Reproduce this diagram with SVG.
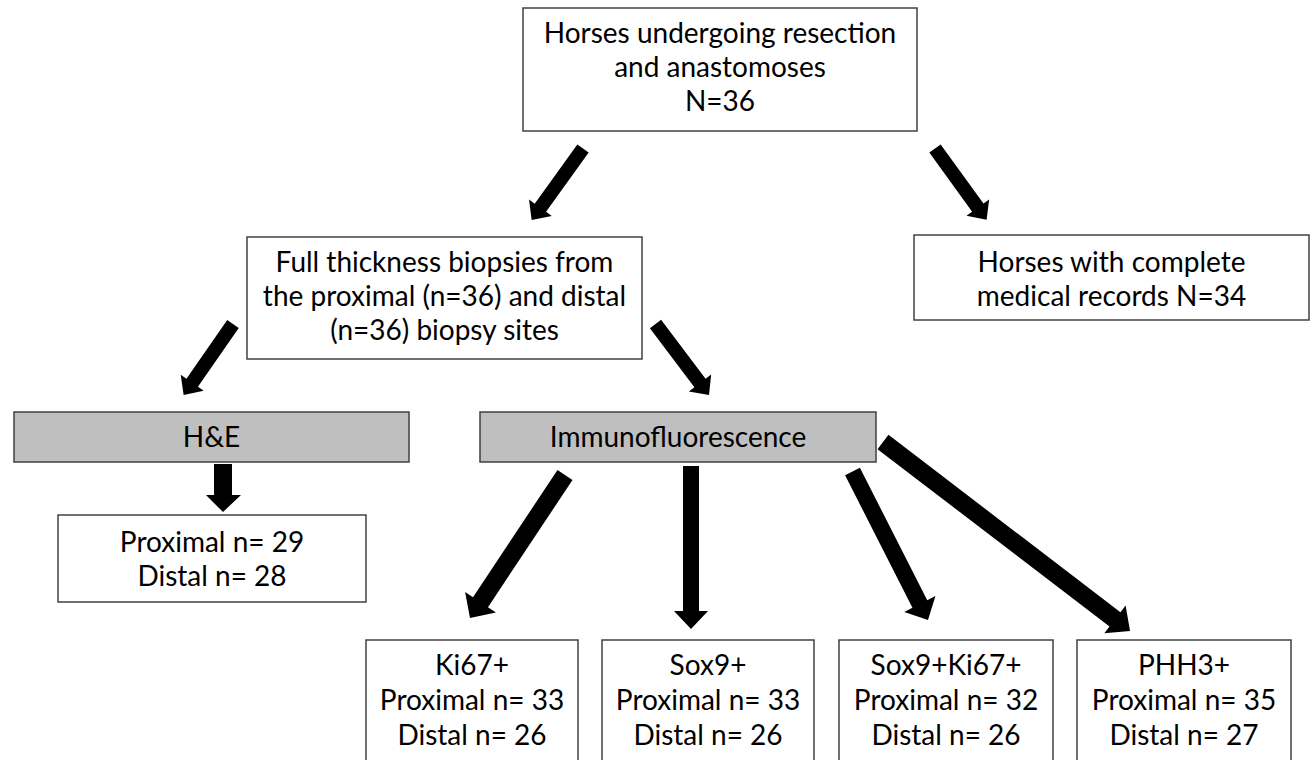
<svg xmlns="http://www.w3.org/2000/svg" width="1316" height="760" viewBox="0 0 1316 760">
<style>
.box{fill:#ffffff;stroke:#404040;stroke-width:1.5}
.gbox{fill:#bfbfbf;stroke:#404040;stroke-width:1.5}
.t{font-family:Lato,"Liberation Sans",sans-serif;font-size:28px;fill:#000;text-anchor:middle}
.arr{fill:#000}
</style>
<rect width="1316" height="760" fill="#fff"/>
<g id="connectors">
<polygon class="arr" transform="translate(583,148.5) rotate(125.7)" points="0,-7 73,-7 73,-14 88,0 73,14 73,7 0,7"/>
<polygon class="arr" transform="translate(935,148.5) rotate(54.1)" points="0,-7 73,-7 73,-14 88,0 73,14 73,7 0,7"/>
<polygon class="arr" transform="translate(233,324) rotate(124.8)" points="0,-7 71.5,-7 71.5,-14 86.5,0 71.5,14 71.5,7 0,7"/>
<polygon class="arr" transform="translate(655.5,324) rotate(53)" points="0,-7 73.9,-7 73.9,-14 88.9,0 73.9,14 73.9,7 0,7"/>
<polygon class="arr" points="214,464 232,464 232,495 241,495 223,512 206,495 214,495"/>
<polygon class="arr" transform="translate(565,475) rotate(123.6)" points="0,-9 152.7,-9 152.7,-18.5 171.7,0 152.7,18.5 152.7,9 0,9"/>
<polygon class="arr" points="683,466 699,466 699,611 708,611 691,629 674,611 683,611"/>
<polygon class="arr" transform="translate(852.5,471.5) rotate(63.05)" points="0,-8.3 148.6,-8.3 148.6,-17.5 166.6,0 148.6,17.5 148.6,8.3 0,8.3"/>
<polygon class="arr" transform="translate(883,442) rotate(37.4)" points="0,-9 292,-9 292,-17.5 311,0 292,17.5 292,9 0,9"/>
</g>
<g id="n-horses">
<rect class="box" x="523" y="8" width="394" height="123"/>
<text class="t" x="720" y="43">Horses undergoing resection</text>
<text class="t" x="720" y="77">and anastomoses</text>
<text class="t" x="720" y="111">N=36</text>
</g>
<g id="n-biopsies">
<rect class="box" x="247" y="237" width="395" height="122"/>
<text class="t" x="444.5" y="272">Full thickness biopsies from</text>
<text class="t" x="444.5" y="306">the proximal (n=36) and distal</text>
<text class="t" x="444.5" y="340">(n=36) biopsy sites</text>
</g>
<g id="n-records">
<rect class="box" x="914" y="235" width="395" height="85"/>
<text class="t" x="1111.5" y="272">Horses with complete</text>
<text class="t" x="1111.5" y="306">medical records N=34</text>
</g>
<g id="n-he">
<rect class="gbox" x="14" y="412" width="395" height="50"/>
<text class="t" x="211.5" y="447">H&amp;E</text>
</g>
<g id="n-if">
<rect class="gbox" x="480" y="412" width="396" height="50"/>
<text class="t" x="678" y="447">Immunofluorescence</text>
</g>
<g id="n-he-counts">
<rect class="box" x="58" y="515" width="308" height="87"/>
<text class="t" x="212" y="552">Proximal n= 29</text>
<text class="t" x="212" y="586">Distal n= 28</text>
</g>
<g id="n-ki67">
<rect class="box" x="366" y="640" width="212" height="130"/>
<text class="t" x="472" y="675">Ki67+</text>
<text class="t" x="472" y="710">Proximal n= 33</text>
<text class="t" x="472" y="745">Distal n= 26</text>
</g>
<g id="n-sox9">
<rect class="box" x="602" y="640" width="212" height="130"/>
<text class="t" x="708" y="675">Sox9+</text>
<text class="t" x="708" y="710">Proximal n= 33</text>
<text class="t" x="708" y="745">Distal n= 26</text>
</g>
<g id="n-sox9ki67">
<rect class="box" x="839" y="640" width="214" height="130"/>
<text class="t" x="946" y="675">Sox9+Ki67+</text>
<text class="t" x="946" y="710">Proximal n= 32</text>
<text class="t" x="946" y="745">Distal n= 26</text>
</g>
<g id="n-phh3">
<rect class="box" x="1077" y="640" width="214" height="130"/>
<text class="t" x="1184" y="675">PHH3+</text>
<text class="t" x="1184" y="710">Proximal n= 35</text>
<text class="t" x="1184" y="745">Distal n= 27</text>
</g>
</svg>
